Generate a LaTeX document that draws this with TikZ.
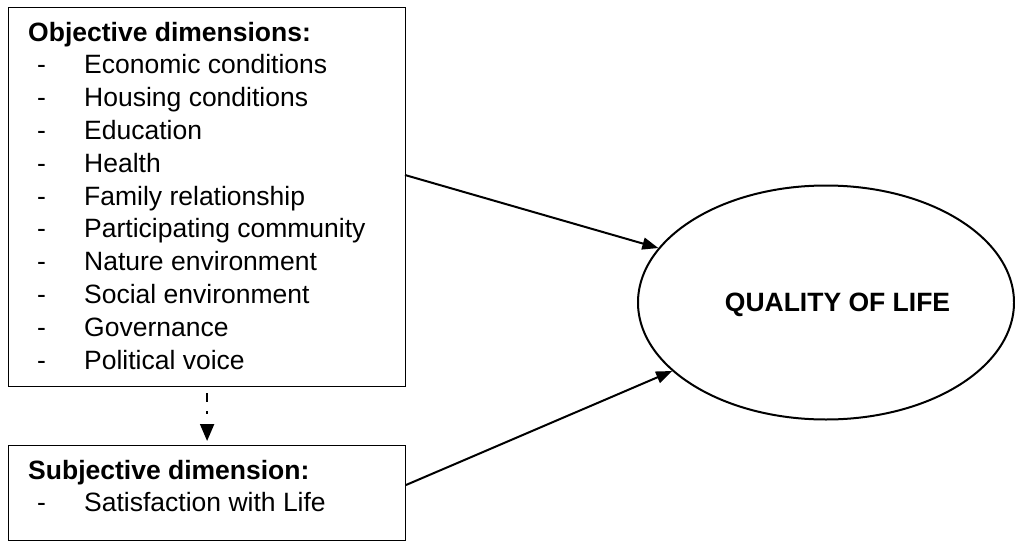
\documentclass[tikz,border=0pt]{standalone}
\usepackage{fontspec}
\setmainfont{Liberation Sans}
\usetikzlibrary{arrows.meta,shapes.geometric}
\begin{document}
\begin{tikzpicture}[x=1pt,y=-1pt,
  box/.style={draw=black,line width=1.2pt,inner sep=0pt,anchor=north west},
  txt/.style={anchor=base west,inner sep=0pt,font=\fontsize{26.5}{32}\selectfont},
  head/.style={anchor=base west,inner sep=0pt,font=\fontsize{26.5}{32}\selectfont\bfseries},
  link/.style={line width=2pt,-{Triangle[length=16pt,width=12pt]}}]
\useasboundingbox (0,0) rectangle (1015,541);

% objective dimensions box
\node[box,minimum width=397pt,minimum height=379pt] (obj) at (8,7) {};
\node[head] (objh) at (28,41) {Objective dimensions:};
\foreach \t [count=\i] in {Economic conditions,Housing conditions,Education,Health,
  Family relationship,Participating community,Nature environment,
  Social environment,Governance,Political voice}
  \node[txt] (obji\i) at (37,{41+32.8*\i}) {\makebox[47pt][l]{-}\t};

% subjective dimension box
\node[box,minimum width=397pt,minimum height=95pt] (subj) at (8,445) {};
\node[head] (subjh) at (28,479) {Subjective dimension:};
\node[txt] (subji1) at (37,511) {\makebox[47pt][l]{-}Satisfaction with Life};

% outcome
\node[draw,ellipse,line width=2pt,minimum width=376pt,minimum height=234pt,inner sep=0pt]
  (qol) at (826,302.5) {};
\node[head,anchor=base] (qolt) at (837.5,311) {QUALITY OF LIFE};

% connectors
\coordinate (s1) at (405,175);
\coordinate (s2) at (406,485);
\draw[link] (s1) -- (qol.162);
\draw[link] (s2) -- (qol.204);
\draw[line width=2pt,dash pattern=on 9pt off 9pt on 3pt off 20pt,dash phase=35pt,
  -{Triangle[length=17pt,width=14pt]},shorten >=4pt] (obj.south) -- (subj.north);
\end{tikzpicture}
\end{document}
